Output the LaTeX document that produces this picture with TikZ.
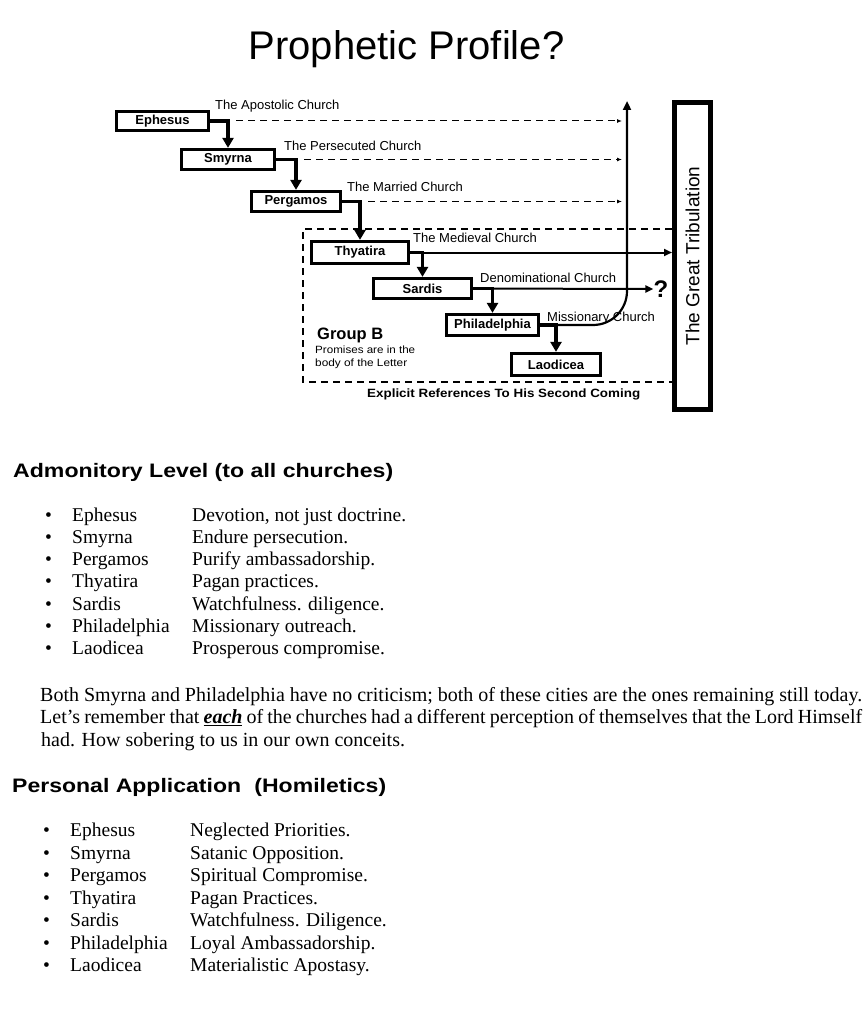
\documentclass[tikz,border=0pt]{standalone}
\usepackage{fontspec}
\usepackage{graphicx}
\setmainfont{Liberation Serif}
\newfontfamily\arial{Liberation Sans}
\usetikzlibrary{arrows.meta}
\newcommand\fitw[2]{\resizebox{#1}{\height}{#2}}
\newcommand\fs[1]{\fontsize{#1}{#1}\selectfont}
\begin{document}
\begin{tikzpicture}[x=1pt,y=-1pt,
  church/.style={draw, line width=2.8pt, inner sep=0pt, font=\arial\bfseries\fs{13}},
  lab/.style={anchor=base west, inner sep=0pt, font=\arial\fs{13}},
  flow/.style={line width=3.2pt, -{Triangle[length=10pt,width=11pt]}},
  medarrow/.style={line width=2pt, -{Triangle[length=8pt,width=7pt]}},
  dashline/.style={line width=1pt, dash pattern=on 7pt off 5pt, -{Latex[length=5pt,width=4pt]}},
  grpline/.style={line width=1.1pt, dash pattern=on 7pt off 5pt},
  txt/.style={anchor=base west, inner sep=0pt, font=\fs{19.5}},
  para/.style={anchor=base west, inner sep=0pt, font=\fs{20}},
  head/.style={anchor=base west, inner sep=0pt, font=\arial\bfseries\fs{19.5}}]
\fill[white] (0,0) rectangle (866,1024);
\useasboundingbox (0,0) rectangle (866,1024);

% title
\node[anchor=base, inner sep=0pt, font=\arial\fs{40}] (title) at (406.5,60) {Prophetic Profile?};

% church boxes
\node[church, minimum width=92.5pt, minimum height=19.5pt] (eph) at (162.5,121) {Ephesus};
\node[church, minimum width=93.5pt, minimum height=20.5pt] (smy) at (228,159.5) {Smyrna};
\node[church, minimum width=89.5pt, minimum height=20.5pt] (per) at (296,201.5) {Pergamos};
\node[church, minimum width=97.5pt, minimum height=22.5pt] (thy) at (360,252.5) {Thyatira};
\node[church, minimum width=98.5pt, minimum height=20.5pt] (sar) at (422.5,288.5) {Sardis};
\node[church, minimum width=92.5pt, minimum height=21.5pt] (phi) at (492.5,325) {Philadelphia};
\node[church, minimum width=89.5pt, minimum height=22.5pt] (lao) at (556,364.5) {Laodicea};

% great tribulation
\node[draw, line width=5pt, minimum width=36pt, minimum height=307pt, inner sep=0pt] (gt) at (692.5,256) {};
\node[rotate=90, inner sep=0pt, font=\arial\fs{19}] (gtl) at (gt.center) {The Great Tribulation};

% labels
\node[lab] (l1) at (215,110) {The Apostolic Church};
\node[lab] (l2) at (284,151) {The Persecuted Church};
\node[lab] (l3) at (347,192) {The Married Church};
\node[lab] (l4) at (413,242) {The Medieval Church};
\node[lab] (l5) at (480,282) {Denominational Church};
\node[lab] (l6) at (547,321) {Missionary Church};

% coordinates
\coordinate (dend) at (622,0);
\coordinate (top) at (627,101);
\coordinate (gtl1) at (303,229);
\coordinate (gbl1) at (303,382);

% dashed group box
\draw[grpline] (gtl1 -| gt.west) -- (gtl1) -- (gbl1) -- (gbl1 -| gt.west);

% dashed arrows
\draw[dashline, shorten <=8pt] (smy.north |- eph.east) -- (dend |- eph.east);
\draw[dashline, shorten <=8pt] (per.north |- smy.east) -- (dend |- smy.east);
\draw[dashline, shorten <=8pt] (thy.north |- per.east) -- (dend |- per.east);

% main flow
\draw[flow] (eph.east) -| (smy.north);
\draw[flow] (smy.east) -| (per.north);
\draw[flow] (per.east) -| (thy.north);
\draw[flow] (thy.east) -| (sar.north);
\draw[flow] (sar.east) -| (phi.north);
\draw[flow] (phi.east) -| (lao.north);

% long arrows
\node[inner sep=0pt, font=\arial\bfseries\fs{24}] (qm) at (661,289) {?};
\draw[medarrow] (thy.east) -- (thy.east -| gt.west);
\draw[medarrow] (sar.east) -- (qm.west);
\draw[line width=2.2pt, rounded corners=34pt, -{Triangle[length=9pt,width=8pt]}] (phi.east) -- (phi.east -| top) -- (top);

% group B
\node[anchor=base west, inner sep=0pt, font=\arial\bfseries\fs{16.5}] (gb) at (317,339) {Group B};
\node[anchor=base west, inner sep=0pt, font=\arial\fs{10.5}] (gb1) at (315,353) {\fitw{100pt}{Promises are in the}};
\node[anchor=base west, inner sep=0pt, font=\arial\fs{10.5}] (gb2) at (315,366) {\fitw{92pt}{body of the Letter}};
\node[anchor=base west, inner sep=0pt, font=\arial\bfseries\fs{12}] (expl) at (367,397) {\fitw{273pt}{Explicit References To His Second Coming}};

% heading 1
\node[head] (h1) at (13,477) {\fitw{380pt}{Admonitory Level (to all churches)}};
\node[txt] (b11) at (45,521) {•};
\node[txt] (n11) at (72,521) {Ephesus};
\node[txt] (d11) at (192,521) {Devotion, not just doctrine.};
\node[txt] (b12) at (45,543.3) {•};
\node[txt] (n12) at (72,543.3) {Smyrna};
\node[txt] (d12) at (192,543.3) {Endure persecution.};
\node[txt] (b13) at (45,565.6) {•};
\node[txt] (n13) at (72,565.6) {Pergamos};
\node[txt] (d13) at (192,565.6) {Purify ambassadorship.};
\node[txt] (b14) at (45,587.9) {•};
\node[txt] (n14) at (72,587.9) {Thyatira};
\node[txt] (d14) at (192,587.9) {Pagan practices.};
\node[txt] (b15) at (45,610.2) {•};
\node[txt] (n15) at (72,610.2) {Sardis};
\node[txt] (d15) at (192,610.2) {Watchfulness. diligence.};
\node[txt] (b16) at (45,632.5) {•};
\node[txt] (n16) at (72,632.5) {Philadelphia};
\node[txt] (d16) at (192,632.5) {Missionary outreach.};
\node[txt] (b17) at (45,654.8) {•};
\node[txt] (n17) at (72,654.8) {Laodicea};
\node[txt] (d17) at (192,654.8) {Prosperous compromise.};

% paragraph
\node[para] (p1) at (40,701) {\makebox[822pt][s]{Both Smyrna and Philadelphia have no criticism; both of these cities are the ones remaining still today.}};
\node[para] (p2) at (40,723.5) {\makebox[822pt][s]{Let’s remember that \underline{\textbf{\textit{each}}} of the churches had a different perception of themselves that the Lord Himself}};
\node[para] (p3) at (41,746) {had. How sobering to us in our own conceits.};

% heading 2
\node[head] (h2) at (12,792) {\fitw{374pt}{Personal Application\hspace{0.3em} (Homiletics)}};
\node[txt] (b21) at (43,836.5) {•};
\node[txt] (n21) at (70,836.5) {Ephesus};
\node[txt] (d21) at (190,836.5) {Neglected Priorities.};
\node[txt] (b22) at (43,859) {•};
\node[txt] (n22) at (70,859) {Smyrna};
\node[txt] (d22) at (190,859) {Satanic Opposition.};
\node[txt] (b23) at (43,881.5) {•};
\node[txt] (n23) at (70,881.5) {Pergamos};
\node[txt] (d23) at (190,881.5) {Spiritual Compromise.};
\node[txt] (b24) at (43,904) {•};
\node[txt] (n24) at (70,904) {Thyatira};
\node[txt] (d24) at (190,904) {Pagan Practices.};
\node[txt] (b25) at (43,926.5) {•};
\node[txt] (n25) at (70,926.5) {Sardis};
\node[txt] (d25) at (190,926.5) {Watchfulness. Diligence.};
\node[txt] (b26) at (43,949) {•};
\node[txt] (n26) at (70,949) {Philadelphia};
\node[txt] (d26) at (190,949) {Loyal Ambassadorship.};
\node[txt] (b27) at (43,971.5) {•};
\node[txt] (n27) at (70,971.5) {Laodicea};
\node[txt] (d27) at (190,971.5) {Materialistic Apostasy.};
\end{tikzpicture}
\end{document}
